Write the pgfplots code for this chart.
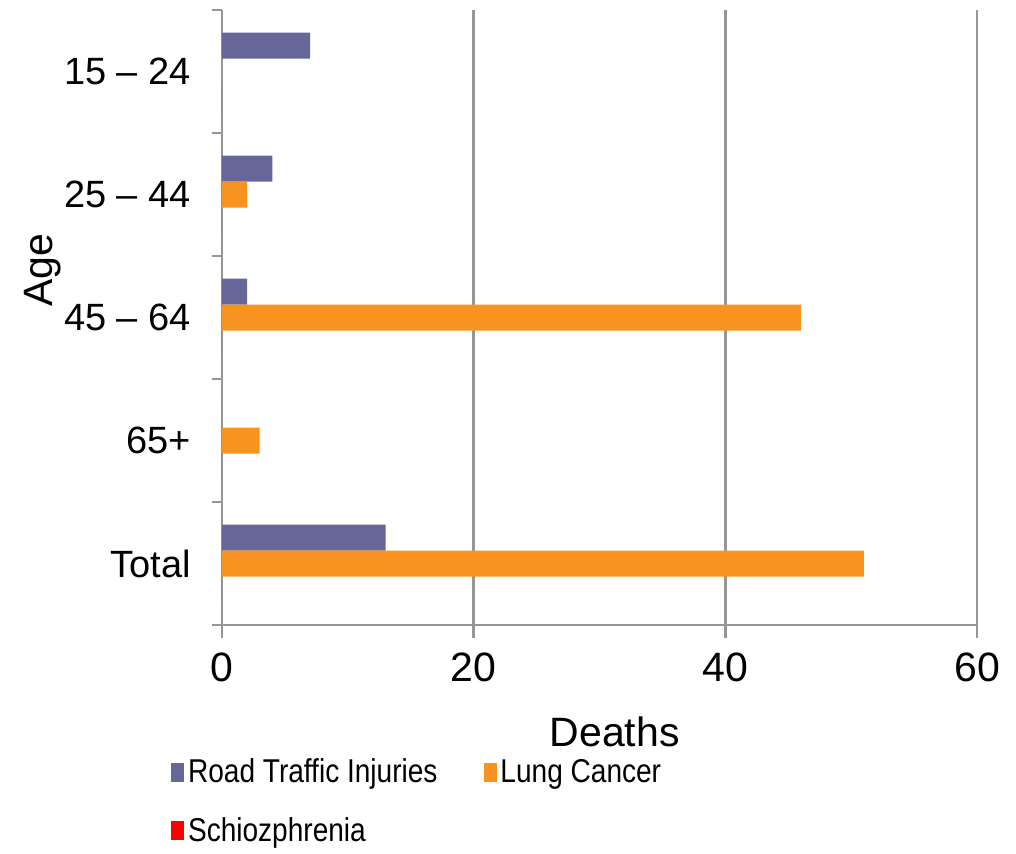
\documentclass[border=0pt]{standalone}
\usepackage{pgfplots}
\pgfplotsset{compat=1.18}
\usepackage{fontspec}
\setmainfont{Liberation Sans}
\newfontfamily\legfont[FakeStretch=0.85]{Liberation Sans}
\definecolor{rti}{HTML}{666699}
\definecolor{lc}{HTML}{F7931E}
\definecolor{sz}{HTML}{FF0000}
\definecolor{axgray}{HTML}{969696}
\begin{document}
\begin{tikzpicture}
\begin{axis}[
  scale only axis,
  width=377.5pt, height=307.5pt,
  xbar=0pt, bar width=13pt,
  xmin=0, xmax=60,
  ymin=-0.5, ymax=4.5,
  y dir=reverse,
  axis lines=left,
  axis line style={-, draw=axgray, line width=1.2pt},
  xtick={0,20,40,60},
  ytick={0,1,2,3,4},
  yticklabels={15 – 24, 25 – 44, 45 – 64, 65+, Total},
  minor ytick={-0.5,0.5,1.5,2.5,3.5,4.5},
  tick align=outside,
  major tick length=6.5pt,
  minor tick length=5pt,
  x tick style={draw=axgray, line width=1.2pt},
  y tick style={draw=none},
  minor y tick style={draw=axgray, line width=1.2pt},
  xmajorgrids,
  grid style={draw=axgray, line width=1.2pt},
  /pgf/number format/assume math mode=true,
  x tick label style={font=\fontsize{20.5}{24}\selectfont, yshift=-4pt},
  y tick label style={font=\fontsize{19}{22}\selectfont, xshift=-5.5pt},
  xlabel={Deaths},
  ylabel={Age},
  xlabel style={font=\fontsize{20.5}{24}\selectfont, at={(rel axis cs:0.52,-0.174)}, anchor=center},
  ylabel style={font=\fontsize{20.5}{24}\selectfont, at={(rel axis cs:-0.238,0.577)}, anchor=center},
  legend style={draw=none, fill=none, at={(rel axis cs:-0.068,-0.210)}, anchor=north west,
    font=\legfont\fontsize{16.5}{18}\selectfont, inner sep=0pt,
    /tikz/every even column/.append style={column sep=21pt},
    row sep=12pt},
  legend columns=2,
  legend cell align=left,
  legend image code/.code={\fill[#1] (0pt,-4.75pt) rectangle (6.5pt,4.75pt);},
]
\addplot[fill=rti, draw=none, bar shift=13pt] coordinates {(7,0) (4,1) (2,2) (0,3) (13,4)};
\addplot[fill=lc, draw=none, bar shift=0pt] coordinates {(0,0) (2,1) (46,2) (3,3) (51,4)};
\addplot[fill=sz, draw=none, bar shift=-13pt] coordinates {(0,0) (0,1) (0,2) (0,3) (0,4)};
\legend{Road Traffic Injuries, Lung Cancer, Schiozphrenia}
\end{axis}
\pgfresetboundingbox
\path[use as bounding box] ([xshift=-111pt,yshift=-114pt]current axis.south west) rectangle ([xshift=397pt,yshift=312.5pt]current axis.south west);
\end{tikzpicture}
\end{document}
